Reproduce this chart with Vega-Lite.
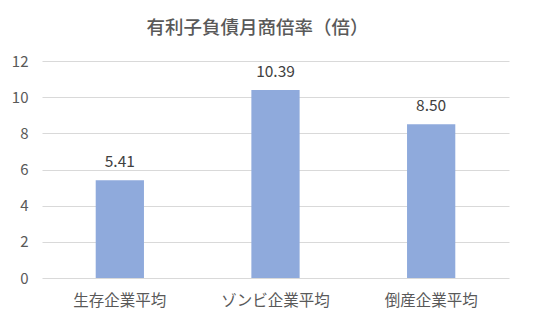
{
  "$schema": "https://vega.github.io/schema/vega-lite/v6.json",
  "autosize": "none",
  "width": 467,
  "height": 217,
  "padding": {"left": 42, "top": 61, "right": 40, "bottom": 50},
  "background": "white",
  "title": {
    "text": "有利子負債月商倍率（倍）",
    "font": "Noto Sans CJK JP",
    "fontSize": 18.5,
    "fontWeight": 500,
    "color": "#595959",
    "anchor": "middle",
    "offset": 17,
    "dx": -18
  },
  "data": {
    "values": [
      {"category": "生存企業平均", "value": 5.41, "label": "5.41"},
      {"category": "ゾンビ企業平均", "value": 10.39, "label": "10.39"},
      {"category": "倒産企業平均", "value": 8.50, "label": "8.50"}
    ]
  },
  "config": {
    "view": {"stroke": null},
    "font": "Noto Sans CJK JP"
  },
  "encoding": {
    "x": {
      "field": "category",
      "type": "nominal",
      "sort": null,
      "scale": {"paddingInner": 0, "paddingOuter": 0},
      "axis": {
        "title": null,
        "labelAngle": 0,
        "labelFont": "Noto Sans CJK JP",
        "labelFontSize": 15.5,
        "labelColor": "#595959",
        "labelPadding": 15,
        "ticks": false,
        "domain": false,
        "grid": false
      }
    },
    "y": {
      "field": "value",
      "type": "quantitative",
      "scale": {"domain": [0, 12], "nice": false},
      "axis": {
        "title": null,
        "values": [0, 2, 4, 6, 8, 10, 12],
        "labelFont": "Noto Sans CJK JP",
        "labelFontSize": 15,
        "labelColor": "#595959",
        "labelPadding": 14,
        "ticks": false,
        "domain": false,
        "grid": true,
        "gridColor": "#d9d9d9",
        "gridWidth": 1
      }
    }
  },
  "layer": [
    {
      "mark": {"type": "bar", "color": "#8FAADC", "width": {"band": 0.31}}
    },
    {
      "mark": {
        "type": "text",
        "baseline": "bottom",
        "dy": -10,
        "font": "Noto Sans CJK JP",
        "fontSize": 15.5,
        "color": "#404040"
      },
      "encoding": {"text": {"field": "label"}}
    }
  ]
}
